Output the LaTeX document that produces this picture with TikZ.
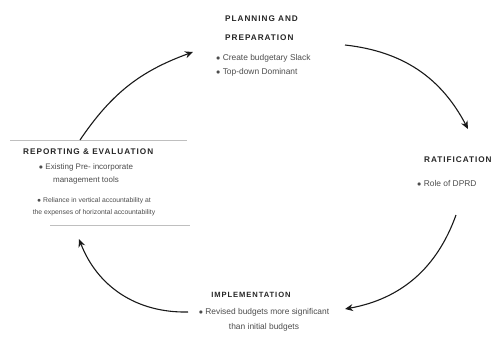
\documentclass[tikz,border=0pt]{standalone}
\usepackage{fontspec}
\setmainfont{Liberation Sans}
\newfontfamily\titlefont[LetterSpace=12]{Liberation Sans}
\usetikzlibrary{arrows.meta}
\begin{document}
\begin{tikzpicture}[x=1pt,y=1pt,
  ttl/.style={font=\titlefont\bfseries\fontsize{8.2}{19}\selectfont, text=black!85, inner sep=0pt, align=left},
  body/.style={font=\fontsize{8.4}{14.5}\selectfont, text=black!70, inner sep=0pt},
  cyc/.style={line width=1.1pt, black!90, -{Stealth[length=8pt,width=7pt]}},
  faint/.style={draw=black!25, line width=0.5pt}]
\useasboundingbox (0,0) rectangle (501,-338);
% Planning
\node[ttl, anchor=north west] (plan) at (225,-16) {PLANNING AND\\PREPARATION};
\node[body, anchor=west, align=left] (planb) at (216,-65.5) {$\bullet$ Create budgetary Slack\\$\bullet$ Top-down Dominant};
% Ratification
\node[ttl, anchor=west] (rat) at (424,-160) {RATIFICATION};
\node[body, anchor=west] (ratb) at (417,-183) {$\bullet$ Role of DPRD};
% Implementation
\node[ttl, anchor=center, font=\titlefont\bfseries\fontsize{7.6}{14}\selectfont] (imp) at (251,-295) {IMPLEMENTATION};
\node[body, align=center, anchor=center] (impb) at (264,-320) {$\bullet$ Revised budgets more significant\\than initial budgets};
% Reporting
\node[ttl, anchor=west] (rep) at (23,-152) {REPORTING \& EVALUATION};
\node[body, align=center, anchor=north, font=\fontsize{8}{13.5}\selectfont] (repb1) at (86,-163) {$\bullet$ Existing Pre- incorporate\\management tools};
\node[body, align=center, anchor=north, font=\fontsize{6.8}{12}\selectfont] (repb2) at (94,-197) {$\bullet$ Reliance in vertical accountability at\\the expenses of horizontal accountability};
\coordinate (boxtl) at (10,-140);
\coordinate (boxtr) at (187,-140);
\coordinate (boxbl) at (50,-225);
\coordinate (boxbr) at (190,-225);
\draw[faint] (boxtl) -- (boxtr);
\draw[faint] (boxbl) -- (boxbr);
% Connectors
\coordinate (a1s) at (80,-140);
\coordinate (a1e) at (193,-52);
\coordinate (a2s) at (345,-45);
\coordinate (a2e) at (468,-129);
\coordinate (a3s) at (456,-215);
\coordinate (a3e) at (345,-309);
\coordinate (a4s) at (188,-312);
\coordinate (a4e) at (79,-239);
\draw[cyc] (a1s) to[bend left=18] (a1e);
\draw[cyc] (a2s) to[bend left=28] (a2e);
\draw[cyc] (a3s) to[bend left=30] (a3e);
\draw[cyc] (a4s) to[bend left=35] (a4e);
\end{tikzpicture}
\end{document}
